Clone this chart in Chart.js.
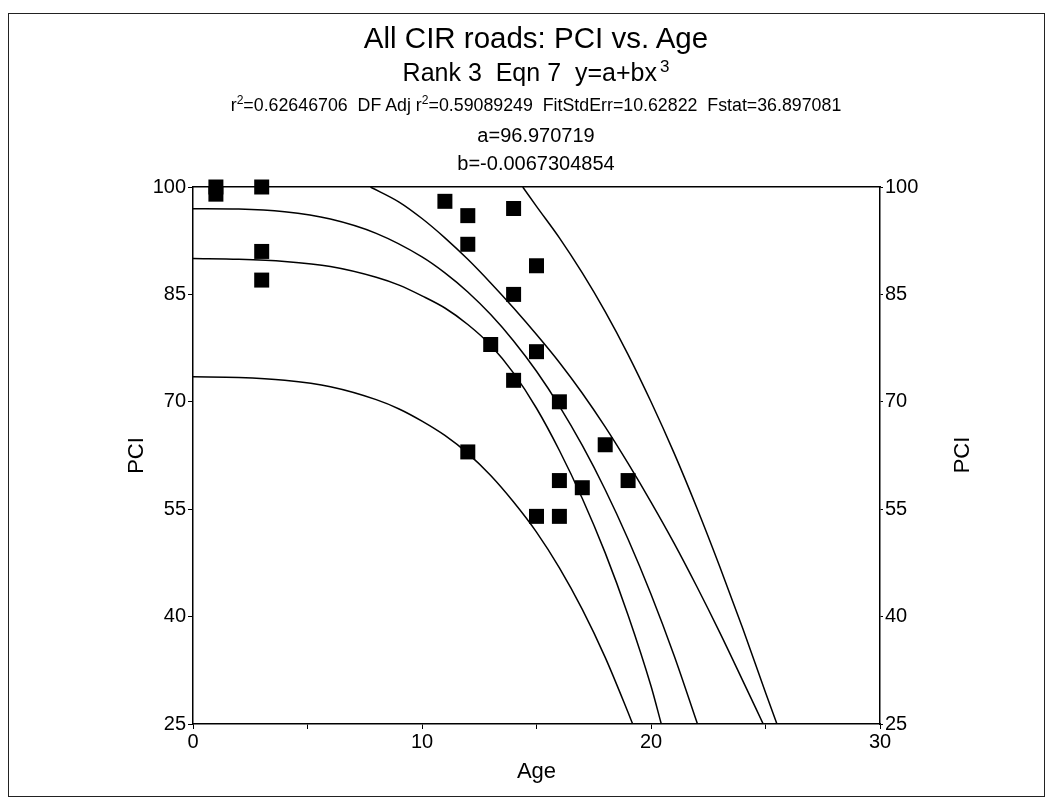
<!DOCTYPE html>
<html>
<head>
<meta charset="utf-8">
<title>All CIR roads: PCI vs. Age</title>
<script src="https://cdn.jsdelivr.net/npm/chart.js@4.4.1/dist/chart.umd.min.js"></script>
<style>
  body { margin: 0; background: #fff; font-family: "Liberation Sans", Arial, sans-serif; color: #000; }
  .page { position: relative; width: 1052px; height: 804px; overflow: hidden; }
  canvas { position: absolute; left: 0; top: 0; }
  .frame { position: absolute; left: 8px; top: 13px; width: 1035px; height: 782px; border: 1px solid #222; }
  .t { position: absolute; left: 0; width: 1072px; text-align: center; white-space: nowrap; }
  .sup { font-size: 0.68em; position: relative; top: -0.55em; line-height: 0; }
  .side { position: absolute; left: 962px; top: 455px; font-size: 22px; transform: translate(-50%, -50%) rotate(-90deg); white-space: nowrap; }
</style>
</head>
<body>
<div class="page">
  <canvas id="chart" width="1052" height="804"></canvas>
  <div class="frame"></div>
  <div class="t" style="top:21px; font-size:29.5px; line-height:34px;">All CIR roads: PCI vs. Age</div>
  <div class="t" style="top:57px; font-size:25px; line-height:30px;">Rank 3&nbsp; Eqn 7&nbsp; y=a+bx<span class="sup" style="margin-left:3px">3</span></div>
  <div class="t" style="top:95px; font-size:17.8px; line-height:21px;">r<span class="sup">2</span>=0.62646706&nbsp; DF Adj r<span class="sup">2</span>=0.59089249&nbsp; FitStdErr=10.62822&nbsp; Fstat=36.897081</div>
  <div class="t" style="top:123px; font-size:20px; line-height:24px;">a=96.970719</div>
  <div class="t" style="top:151px; font-size:20px; line-height:24px;">b=-0.0067304854</div>
  <div class="side">PCI</div>
</div>
<script>
// observed roads
const ageValues = [1, 1, 3, 3, 3, 11, 12, 12, 14, 15, 14, 13, 15, 14, 16, 18, 16, 17, 19, 15, 16, 12];
const pciValues = [100, 99, 100, 91, 87, 98, 96, 92, 97, 89, 85, 78, 77, 73, 70, 64, 59, 58, 59, 54, 54, 63];

// fitted curve y=a+bx^3
const fitAge = [0, 2, 4, 6, 8, 10, 11, 12, 13, 14, 15, 16, 17, 18, 19, 20, 21, 22.03];
const fitPci = [96.97, 96.92, 96.54, 95.52, 93.52, 90.24, 88.01, 85.34, 82.18, 78.5, 74.26, 69.4, 63.9, 57.72, 50.81, 43.13, 34.64, 25];

// inner band (confidence)
const upperConfAge = [7.75, 9, 10, 11, 12, 13, 14, 15, 16, 17, 18, 19, 20, 21, 22, 23, 24, 24.9];
const upperConfPci = [100, 97.9, 95.6, 92.9, 89.9, 86.6, 83.1, 79.4, 75.5, 71.2, 66.5, 61.4, 56.0, 50.3, 44.2, 37.8, 31.1, 25];
const lowerConfAge = [0, 2, 4, 6, 8, 9, 10, 11, 12, 13, 14, 15, 16, 17, 18, 19, 20, 20.45];
const lowerConfPci = [90.0, 89.9, 89.6, 88.9, 87.4, 86.3, 84.8, 83.1, 80.8, 77.9, 74.0, 69.1, 63.2, 56.5, 48.9, 40.2, 30.3, 25];

// outer band (prediction)
const upperPredAge = [14.4, 15, 16, 17, 18, 19, 20, 21, 22, 23, 24, 25, 25.5];
const upperPredPci = [100, 97.3, 92.9, 88.0, 82.6, 76.6, 70.0, 62.9, 55.2, 47.0, 38.4, 29.4, 25];
const lowerPredAge = [0, 2, 4, 6, 8, 9, 10, 11, 12, 13, 14, 15, 16, 17, 18, 19, 19.2];
const lowerPredPci = [73.5, 73.4, 73.0, 72.1, 70.3, 69.0, 67.3, 65.3, 62.8, 59.7, 56.0, 51.8, 46.8, 41.0, 34.3, 26.6, 25];

const xTicks = [0, 10, 20, 30];
const yTicks = [25, 40, 55, 70, 85, 100];

Chart.defaults.font.family = '"Liberation Sans", Arial, sans-serif';
Chart.defaults.color = '#000';

const pairs = (xs, ys) => xs.map((x, i) => ({ x: x, y: ys[i] }));

const curve = (xs, ys) => ({
  data: pairs(xs, ys),
  showLine: true,
  borderColor: '#000',
  borderWidth: 1.5,
  pointRadius: 0,
  cubicInterpolationMode: 'monotone',
  order: 1
});

const tickFont = { size: 20 };

new Chart(document.getElementById('chart'), {
  type: 'scatter',
  data: {
    datasets: [
      {
        data: pairs(ageValues, pciValues),
        pointStyle: 'rect',
        pointRadius: 10.6,
        backgroundColor: '#000',
        borderWidth: 0,
        clip: false,
        order: 0
      },
      curve(fitAge, fitPci),
      curve(upperConfAge, upperConfPci),
      curve(lowerConfAge, lowerConfPci),
      curve(upperPredAge, upperPredPci),
      curve(lowerPredAge, lowerPredPci)
    ]
  },
  options: {
    responsive: false,
    animation: false,
    devicePixelRatio: 1,
    layout: { padding: { left: 120, right: 72, top: 187, bottom: 15 } },
    plugins: { legend: { display: false }, tooltip: { enabled: false } },
    scales: {
      x: {
        type: 'linear', position: 'bottom', min: 0, max: 30,
        ticks: {
          stepSize: 5, font: tickFont, padding: 1, maxRotation: 0,
          callback: (v) => (xTicks.includes(v) ? v : '')
        },
        grid: { drawOnChartArea: false, tickLength: 5, color: '#000' },
        border: { color: '#000', width: 1.5 },
        title: { display: true, text: 'Age', font: { size: 22 } },
        afterFit: (s) => { s.height = 65; }
      },
      xTop: {
        type: 'linear', position: 'top', min: 0, max: 30,
        ticks: { display: false },
        grid: { display: false },
        border: { color: '#000', width: 1.5 },
        afterFit: (s) => { s.height = 0; }
      },
      y: {
        type: 'linear', position: 'left', min: 25, max: 100,
        ticks: { stepSize: 15, font: tickFont, padding: 2, callback: (v) => (yTicks.includes(v) ? v : '') },
        grid: { drawOnChartArea: false, tickLength: 5, color: '#000' },
        border: { color: '#000', width: 1.5 },
        title: { display: true, text: 'PCI', font: { size: 22 } },
        afterFit: (s) => { s.width = 73; }
      },
      yRight: {
        type: 'linear', position: 'right', min: 25, max: 100,
        ticks: { stepSize: 15, font: tickFont, padding: 2, callback: (v) => (yTicks.includes(v) ? v : '') },
        grid: { drawOnChartArea: false, tickLength: 3, color: '#000' },
        border: { color: '#000', width: 1.5 },
        afterFit: (s) => { s.width = 100; }
      }
    }
  }
});
</script>
</body>
</html>
